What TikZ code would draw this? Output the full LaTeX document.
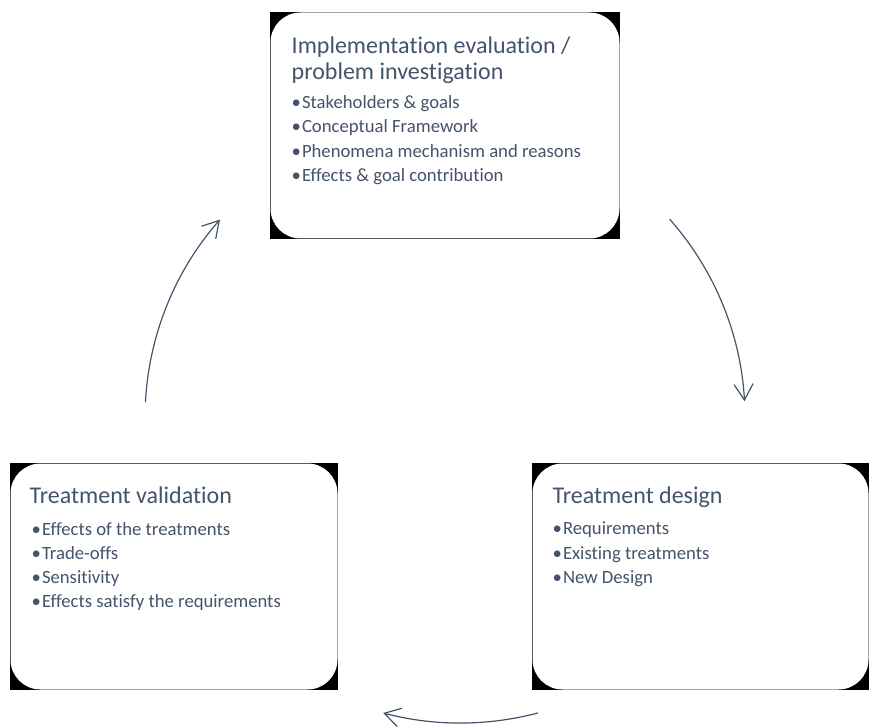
\documentclass[tikz,border=0pt]{standalone}
\usepackage{fontspec}
\setmainfont{Carlito}[Ligatures=NoCommon]
\usetikzlibrary{calc,arrows.meta,backgrounds}
\definecolor{slate}{HTML}{44546A}
\tikzset{
  card/.style={rectangle, fill=white, rounded corners=30pt, inner sep=0pt,
               outer sep=0pt, minimum height=226pt},
  heading/.style={anchor=base west, inner sep=0pt, text=slate,
                  font=\fontsize{24}{26}\selectfont},
  item/.style={anchor=base west, inner sep=0pt, text=slate,
               font=\fontsize{18.7}{22}\selectfont},
  flow/.style={draw=slate, line width=1.2pt,
               -{Straight Barb[length=16pt, width=19pt, line width=1.2pt]}},
}
\newcommand{\bul}[1]{\textbullet\hspace{1pt}#1}
\begin{document}
\begin{tikzpicture}[x=1pt, y=1pt]
\useasboundingbox (0,0) rectangle (869,726);

% the three stage cards
\node[card, minimum width=349pt] (inv) at (445,600.5) {};
\node[card, minimum width=327pt] (val) at (174,149.5) {};
\node[card, minimum width=336pt] (des) at (700.5,149.5) {};

% dark square frames behind the rounded cards
\begin{scope}[on background layer]
  \foreach \b in {inv,val,des}
    \fill[black] ($(\b.north west)+(-0.8,0.8)$) rectangle ($(\b.south east)+(0.8,-0.8)$);
\end{scope}

% problem investigation
\node[heading] (invt1) at ($(inv.north west)+(21,-41)$) {Implementation evaluation /};
\node[heading] (invt2) at ($(inv.north west)+(21,-67)$) {problem investigation};
\node[item] (inv1) at ($(inv.north west)+(21,-96)$) {\bul{Stakeholders \& goals}};
\node[item] (inv2) at ($(inv.north west)+(21,-120.5)$) {\bul{Conceptual Framework}};
\node[item] (inv3) at ($(inv.north west)+(21,-145)$) {\bul{Phenomena mechanism and reasons}};
\node[item] (inv4) at ($(inv.north west)+(21,-169.5)$) {\bul{Effects \& goal contribution}};

% treatment design
\node[heading] (dest) at ($(des.north west)+(20,-40)$) {Treatment design};
\node[item] (des1) at ($(des.north west)+(20,-71)$) {\bul{Requirements}};
\node[item] (des2) at ($(des.north west)+(20,-95.5)$) {\bul{Existing treatments}};
\node[item] (des3) at ($(des.north west)+(20,-120)$) {\bul{New Design}};

% treatment validation
\node[heading] (valt) at ($(val.north west)+(19,-40)$) {Treatment validation};
\node[item] (val1) at ($(val.north west)+(21,-72)$) {\bul{Effects of the treatments}};
\node[item] (val2) at ($(val.north west)+(21,-96)$) {\bul{Trade-offs}};
\node[item] (val3) at ($(val.north west)+(21,-120)$) {\bul{Sensitivity}};
\node[item] (val4) at ($(val.north west)+(21,-144)$) {\bul{Effects satisfy the requirements}};

% cycle arrows
\coordinate (cyc) at (445,308);
\coordinate (cycb) at (460.5,308);
\coordinate (a1) at ($(cyc)+(41.5:300)$);
\coordinate (a2) at ($(cycb)+(-75.3:305)$);
\coordinate (a3) at ($(cyc)+(177:300)$);
\draw[flow] (a1) arc[start angle=41.5, end angle=3.2, radius=300];
\draw[flow] (a2) arc[start angle=-75.3, end angle=-104.7, radius=305];
\draw[flow] (a3) arc[start angle=177, end angle=138.6, radius=300];
\end{tikzpicture}
\end{document}
